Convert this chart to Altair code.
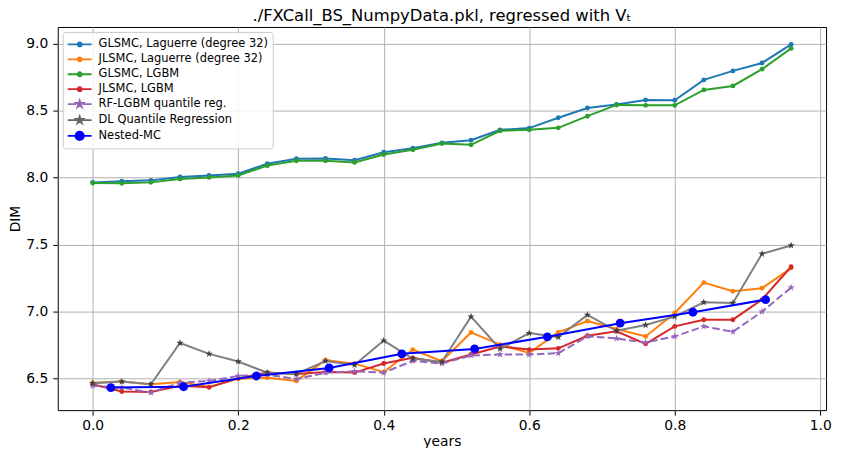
import math
import altair as alt
import pandas as pd

# ---------------- data ----------------
years = [0.00, 0.04, 0.08, 0.12, 0.16, 0.20, 0.24, 0.28, 0.32, 0.36, 0.40, 0.44,
         0.48, 0.52, 0.56, 0.60, 0.64, 0.68, 0.72, 0.76, 0.80, 0.84, 0.88, 0.92, 0.96]

glsmc_laguerre = [7.965, 7.973, 7.980, 8.005, 8.017, 8.030, 8.104, 8.141, 8.144, 8.131,
                  8.190, 8.220, 8.260, 8.280, 8.357, 8.370, 8.447, 8.520, 8.546, 8.580,
                  8.578, 8.730, 8.797, 8.856, 8.995]
jlsmc_laguerre = [6.470, 6.478, 6.458, 6.475, 6.438, 6.500, 6.507, 6.483, 6.638, 6.612,
                  6.548, 6.717, 6.630, 6.845, 6.754, 6.692, 6.845, 6.930, 6.870, 6.815,
                  6.990, 7.217, 7.153, 7.175, 7.325]
glsmc_lgbm = [7.960, 7.958, 7.965, 7.990, 8.002, 8.017, 8.090, 8.126, 8.126, 8.114,
              8.173, 8.208, 8.255, 8.245, 8.350, 8.357, 8.372, 8.459, 8.543, 8.540,
              8.540, 8.655, 8.685, 8.810, 8.965]
jlsmc_lgbm = [6.458, 6.404, 6.400, 6.446, 6.435, 6.502, 6.545, 6.535, 6.550, 6.545,
              6.613, 6.655, 6.618, 6.680, 6.740, 6.717, 6.726, 6.820, 6.853, 6.760,
              6.890, 6.940, 6.940, 7.090, 7.335]
rf_lgbm_quantile = [6.446, 6.433, 6.396, 6.470, 6.483, 6.520, 6.530, 6.497, 6.544, 6.555,
                    6.545, 6.632, 6.613, 6.673, 6.680, 6.680, 6.690, 6.815, 6.800, 6.770,
                    6.815, 6.890, 6.850, 7.000, 7.180]
dl_quantile = [6.465, 6.478, 6.458, 6.766, 6.685, 6.628, 6.544, 6.535, 6.632, 6.602,
               6.784, 6.648, 6.626, 6.963, 6.722, 6.840, 6.810, 6.976, 6.857, 6.900,
               6.963, 7.070, 7.065, 7.432, 7.494]

nested_years = [0.025, 0.125, 0.225, 0.325, 0.425, 0.525, 0.625, 0.725, 0.825, 0.925]
nested_mc = [6.433, 6.440, 6.520, 6.580, 6.685, 6.722, 6.812, 6.914, 6.996, 7.090]

series_names = ["GLSMC, Laguerre (degree 32)", "JLSMC, Laguerre (degree 32)",
                "GLSMC, LGBM", "JLSMC, LGBM", "RF-LGBM quantile reg.",
                "DL Quantile Regression", "Nested-MC"]
series_colors = ["#1f77b4", "#ff7f0e", "#2ca02c", "#d62728", "#9467bd", "#666666", "#0000ff"]

x_ticks = [0.0, 0.2, 0.4, 0.6, 0.8, 1.0]
y_ticks = [6.5, 7.0, 7.5, 8.0, 8.5, 9.0]

title_text = "./FXCall_BS_NumpyData.pkl, regressed with V\u209c"

# ---------------- table ----------------
series_data = [
    (series_names[0], years, glsmc_laguerre),
    (series_names[1], years, jlsmc_laguerre),
    (series_names[2], years, glsmc_lgbm),
    (series_names[3], years, jlsmc_lgbm),
    (series_names[4], years, rf_lgbm_quantile),
    (series_names[5], years, dl_quantile),
    (series_names[6], nested_years, nested_mc),
]
rows = []
for name, xs, ys in series_data:
    for xv, yv in zip(xs, ys):
        rows.append({"series": name, "years": xv, "DIM": yv})
df = pd.DataFrame(rows)


# ---------------- marker geometry ----------------
def star_path(cx, r, prec=3):
    pts = []
    for k in range(10):
        ang = math.radians(-90 + 36 * k)
        rr = r if k % 2 == 0 else r * 0.382
        pts.append((round(cx + rr * math.cos(ang), prec), round(rr * math.sin(ang), prec)))
    return "M" + "L".join(f"{a},{b}" for a, b in pts) + "Z"


def circle_path(cx, r):
    return (f"M{cx - r},0A{r},{r},0,1,0,{cx + r},0"
            f"A{r},{r},0,1,0,{cx - r},0Z")


STAR = star_path(0, 1)

# legend symbols: a line segment with the marker on top (unit = sqrt(size)/2)
LEG_LINE = "M-1,0L2.2,0"
LEG_DASH = "M-1,0L0.12,0M1.08,0L2.2,0"
leg_circle = LEG_LINE + circle_path(0.6, 0.27)
leg_big = LEG_LINE + circle_path(0.6, 0.56)
leg_star = LEG_LINE + star_path(0.6, 0.5)
leg_star_dash = LEG_DASH + star_path(0.6, 0.5)
legend_shapes = [leg_circle, leg_circle, leg_circle, leg_circle,
                 leg_star_dash, leg_star, leg_big]


def make_legend():
    return alt.Legend(
        title=None,
        orient="top-left",
        offset=5,
        padding=4,
        fillColor="rgba(255,255,255,0.85)",
        strokeColor="#cccccc",
        cornerRadius=3,
        symbolSize=225,
        symbolStrokeWidth=1.8,
        symbolOpacity=1,
        labelOffset=15,
        rowPadding=0,
        labelFontSize=11.5,
        labelFont="DejaVu Sans",
        labelColor="black",
        labelLimit=400,
    )


x_enc = alt.X("years:Q",
              scale=alt.Scale(domain=[-0.048, 1.008], nice=False, zero=False),
              axis=alt.Axis(values=x_ticks, format=".1f", title="years",
                            labelPadding=3, titlePadding=3))
y_enc = alt.Y("DIM:Q",
              scale=alt.Scale(domain=[6.265, 9.125], nice=False, zero=False),
              axis=alt.Axis(values=y_ticks, format=".1f", title="DIM",
                            labelPadding=5, titlePadding=3))
color_enc = alt.Color("series:N",
                      scale=alt.Scale(domain=series_names, range=series_colors),
                      sort=series_names, legend=make_legend())
shape_enc = alt.Shape("series:N",
                      scale=alt.Scale(domain=series_names, range=legend_shapes),
                      sort=series_names, legend=make_legend())

marker_specs = {
    series_names[0]: ("circle", 24, None, None),
    series_names[1]: ("circle", 24, None, None),
    series_names[2]: ("circle", 24, None, None),
    series_names[3]: ("circle", 24, None, None),
    series_names[4]: (STAR, 60, [7.5, 3.3], None),
    series_names[5]: (STAR, 60, None, ("#808080", "#404040")),
    series_names[6]: ("circle", 80, None, None),
}

# legend-only layer (no rows pass the filter) that carries the legend symbols
layers = [
    alt.Chart(df).transform_filter(alt.datum.series == "__legend_only__")
    .mark_point(filled=True, opacity=1)
    .encode(x=x_enc, y=y_enc, color=color_enc, shape=shape_enc)
]
for name in series_names:
    shape, msize, dash, fixed = marker_specs[name]
    base = alt.Chart(df).transform_filter(alt.datum.series == name)
    line_kwargs = dict(strokeWidth=2, opacity=1)
    if dash:
        line_kwargs["strokeDash"] = dash
    line_color = alt.value(fixed[0]) if fixed else color_enc
    pt_color = alt.value(fixed[1]) if fixed else color_enc
    layers.append(base.mark_line(**line_kwargs).encode(x=x_enc, y=y_enc, color=line_color))
    layers.append(base.mark_point(filled=True, shape=shape, size=msize, opacity=1,
                                  strokeWidth=0)
                  .encode(x=x_enc, y=y_enc, color=pt_color))

chart = (
    alt.layer(*layers)
    .properties(
        width=772,
        height=385,
        autosize="none",
        padding={"left": 50, "top": 18, "right": 9, "bottom": 37},
        title=alt.TitleParams(title_text, fontSize=16.5, fontWeight="normal",
                              font="DejaVu Sans", color="black", anchor="middle",
                              offset=2),
    )
    .configure(font="DejaVu Sans")
    .configure_view(stroke="black", strokeWidth=1)
    .configure_axis(
        labelFont="DejaVu Sans", titleFont="DejaVu Sans",
        labelFontSize=13.9, titleFontSize=13.9,
        labelColor="black", titleColor="black", titleFontWeight="normal",
        tickColor="black", tickSize=5, tickWidth=1,
        domain=False,
        gridColor="#b0b0b0", gridWidth=1,
    )
)

chart.save("out.html", embed_options={"renderer": "svg", "actions": False})
